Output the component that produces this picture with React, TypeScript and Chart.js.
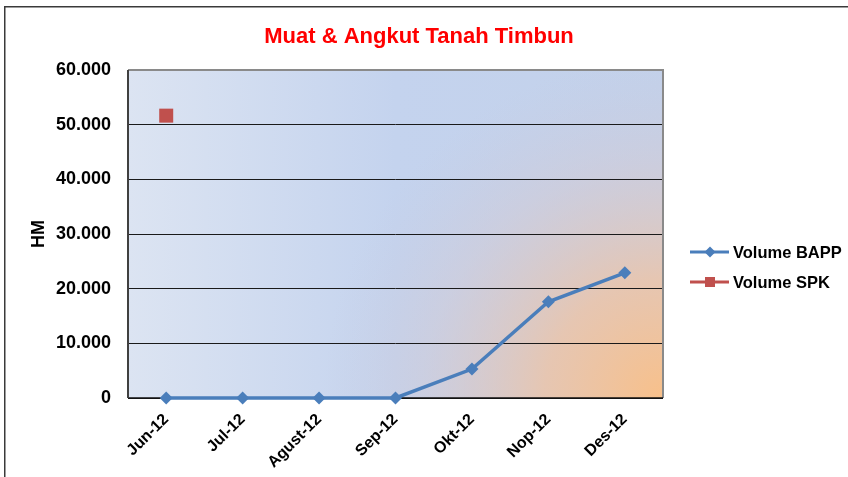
import React, { useEffect, useRef } from "react";
import { Chart, registerables } from "chart.js";

Chart.register(...registerables);

const categories = ["Jun-12", "Jul-12", "Agust-12", "Sep-12", "Okt-12", "Nop-12", "Des-12"];
const volumeBAPP = [0, 0, 0, 0, 5300, 17600, 22900];
const volumeSPK: (number | null)[] = [51650, null, null, null, null, null, null];
const yMin = 0;
const yMax = 60000;
const yStep = 10000;
const titleText = "Muat & Angkut Tanah Timbun";
const yTitle = "HM";
const seriesNames = ["Volume BAPP", "Volume SPK"];

const FONT = "'Liberation Sans', Arial, sans-serif";
const BLUE = "#4a7ebb";
const RED = "#c0504d";

function fmt(v: number): string {
  const s = Math.round(v).toString();
  return s.replace(/\B(?=(\d{3})+(?!\d))/g, ".");
}

const bgPlugin = {
  id: "bgPlugin",
  beforeDraw(chart: any) {
    const { ctx, chartArea } = chart;
    const { left, top, right, bottom } = chartArea;
    const w = right - left;
    const h = bottom - top;
    ctx.save();
    const lin = ctx.createLinearGradient(left, top, right, top);
    lin.addColorStop(0, "#dce4f2");
    lin.addColorStop(0.5, "#c4d3ee");
    lin.addColorStop(1, "#c3d1ea");
    ctx.fillStyle = lin;
    ctx.fillRect(left, top, w, h);
    const rad = ctx.createRadialGradient(right, bottom, 0, right, bottom, 340);
    rad.addColorStop(0, "rgba(248,192,138,1)");
    rad.addColorStop(0.35, "rgba(236,196,168,0.85)");
    rad.addColorStop(0.7, "rgba(215,200,205,0.4)");
    rad.addColorStop(1, "rgba(200,200,220,0)");
    ctx.fillStyle = rad;
    ctx.fillRect(left, top, w, h);
    ctx.restore();
  },
  beforeDatasetsDraw(chart: any) {
    const { ctx, chartArea } = chart;
    const { left, top, right, bottom } = chartArea;
    ctx.save();
    ctx.strokeStyle = "#8a8a8a";
    ctx.lineWidth = 2;
    ctx.beginPath();
    ctx.moveTo(left, top);
    ctx.lineTo(right, top);
    ctx.lineTo(right, bottom);
    ctx.stroke();
    ctx.strokeStyle = "#111";
    ctx.lineWidth = 1.5;
    ctx.beginPath();
    ctx.moveTo(left, bottom);
    ctx.lineTo(right, bottom);
    ctx.stroke();
    ctx.strokeStyle = "#404040";
    ctx.lineWidth = 2;
    ctx.beginPath();
    ctx.moveTo(left, top);
    ctx.lineTo(left, bottom);
    ctx.stroke();
    ctx.restore();
  },
  afterDraw(chart: any) {
    const { ctx } = chart;
    ctx.save();
    // outer frame
    ctx.strokeStyle = "#3a3a3a";
    ctx.lineWidth = 1.5;
    ctx.beginPath();
    ctx.moveTo(4.75, 477);
    ctx.lineTo(4.75, 6.75);
    ctx.lineTo(848, 6.75);
    ctx.stroke();
    // title
    ctx.fillStyle = "#ff0000";
    ctx.font = `bold 22px ${FONT}`;
    ctx.textAlign = "center";
    ctx.textBaseline = "middle";
    ctx.fillText(titleText, 419, 37);
    // legend
    const items = [
      { name: seriesNames[0], color: BLUE, style: "diamond", y: 252 },
      { name: seriesNames[1], color: RED, style: "square", y: 282 },
    ];
    for (const it of items) {
      ctx.strokeStyle = it.color;
      ctx.lineWidth = 3;
      ctx.beginPath();
      ctx.moveTo(690, it.y);
      ctx.lineTo(729, it.y);
      ctx.stroke();
      ctx.fillStyle = it.color;
      if (it.style === "diamond") {
        ctx.beginPath();
        ctx.moveTo(710, it.y - 5.5);
        ctx.lineTo(715.5, it.y);
        ctx.lineTo(710, it.y + 5.5);
        ctx.lineTo(704.5, it.y);
        ctx.closePath();
        ctx.fill();
      } else {
        ctx.fillRect(705, it.y - 5, 10, 10);
      }
      ctx.fillStyle = "#000";
      ctx.font = `bold 16.5px ${FONT}`;
      ctx.textAlign = "left";
      ctx.textBaseline = "middle";
      ctx.fillText(it.name, 733, it.y + 1);
    }
    ctx.restore();
  },
};

export default function App() {
  const ref = useRef<HTMLCanvasElement | null>(null);
  useEffect(() => {
    if (!ref.current) return;
    const chart = new Chart(ref.current, {
      type: "line",
      data: {
        labels: categories,
        datasets: [
          {
            label: seriesNames[0],
            data: volumeBAPP,
            borderColor: BLUE,
            backgroundColor: BLUE,
            borderWidth: 3.5,
            pointStyle: "rectRot",
            pointRadius: 6.5,
            pointBorderWidth: 0,
            pointBackgroundColor: BLUE,
            tension: 0,
            clip: false,
          },
          {
            label: seriesNames[1],
            data: volumeSPK,
            borderColor: RED,
            backgroundColor: RED,
            borderWidth: 3,
            pointStyle: "rect",
            pointRadius: 9.9,
            pointBorderWidth: 0,
            pointBackgroundColor: RED,
            spanGaps: false,
            clip: false,
          },
        ],
      },
      options: {
        animation: false,
        responsive: false,
        devicePixelRatio: 1,
        layout: { padding: { left: 8, right: 185, top: 70, bottom: 0 } },
        plugins: {
          legend: { display: false },
          tooltip: { enabled: false },
          title: { display: false },
        },
        scales: {
          x: {
            type: "category",
            offset: true,
            grid: { display: false, drawTicks: false },
            border: { display: false },
            ticks: {
              color: "#000",
              font: { family: FONT, size: 16, weight: "bold" },
              minRotation: 45,
              maxRotation: 45,
              padding: 12,
              autoSkip: false,
            },
            afterFit(scale: any) {
              scale.height = 79;
            },
          },
          y: {
            min: yMin,
            max: yMax,
            grid: { color: "#1a1a1a", lineWidth: 1, drawTicks: false },
            border: { display: false },
            ticks: {
              stepSize: yStep,
              color: "#000",
              padding: 17,
              font: { family: FONT, size: 18, weight: "bold" },
              callback: (v: any) => fmt(Number(v)),
            },
            title: {
              display: true,
              text: yTitle,
              color: "#000",
              font: { family: FONT, size: 18, weight: "bold" },
              padding: { top: 20, bottom: 0 },
            },
            afterFit(scale: any) {
              scale.width = 120;
            },
          },
        },
      },
      plugins: [bgPlugin],
    } as any);
    return () => chart.destroy();
  }, []);
  return (
    <div style={{ position: "absolute", left: 0, top: 0, width: 848, height: 477, background: "#fff" }}>
      <canvas ref={ref} width={848} height={477} style={{ display: "block" }} />
    </div>
  );
}
